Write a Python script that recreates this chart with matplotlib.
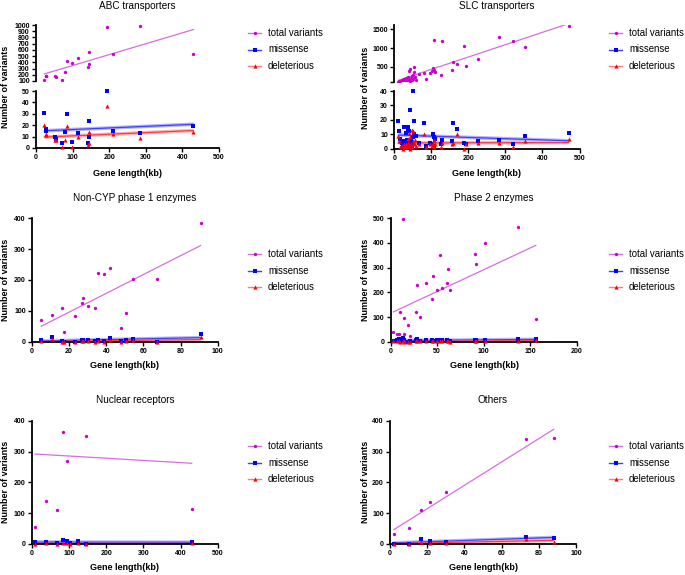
import numpy as np
import matplotlib
matplotlib.use('Agg')
import matplotlib.pyplot as plt
from matplotlib.lines import Line2D

plt.rcParams['font.family'] = ['Liberation Sans', 'DejaVu Sans']

# ---- data (gene length in kb, number of variants) ----
abc_len = [23, 26, 28, 51, 56, 70, 78, 84, 98, 116, 141, 144, 145, 194, 211, 283, 430]
abc_total = [116, 175, 180, 186, 170, 116, 245, 427, 384, 470, 325, 379, 572, 968, 534, 989, 534]
abc_missense = [31, 17, 15, 10, 8, 4, 14, 30, 5, 13, 4, 10, 24, 50, 15, 13, 19]
abc_deleterious = [20, 12, 11, 7, 7, 1, 7, 19, 1, 10, 3, 4, 14, 37, 12, 9, 14]

slc_len = [11, 13, 16, 20, 23, 25, 27, 29, 31, 33, 35, 37, 38, 40, 41, 42, 43, 45, 47, 48,
           50, 51, 52, 54, 56, 58, 66, 80, 85, 97, 102, 105, 107, 108, 109, 127, 130, 156,
           158, 168, 188, 194, 227, 284, 320, 352, 471]
slc_total = [110, 120, 130, 140, 150, 170, 180, 160, 200, 140, 170, 230, 190, 395, 160, 440,
             120, 210, 260, 150, 290, 180, 368, 500, 230, 160, 316, 351, 184, 333, 400, 465,
             1211, 420, 377, 289, 1175, 421, 640, 588, 1044, 535, 719, 1281, 1184, 1035, 1588]
slc_missense = [19, 12, 7, 4, 1, 5, 15, 4, 11, 6, 2, 15, 14, 12, 3, 27, 1, 5, 4, 2, 40, 8, 19,
                10, 9, 9, 4, 18, 2, 4, 3, 10, 8, 2, 7, 3, 6, 5, 18, 14, 4, 3, 5, 6, 3, 9, 11]
slc_deleterious = [9, 5, 1, 2, 0, 3, 2, 1, 3, 2, 1, 7, 4, 11, 2, 8, 0, 3, 13, 1, 12, 5, 4, 3,
                   6, 2, 3, 10, 1, 3, 2, 4, 6, 1, 3, 1, 4, 3, 4, 10, 0, 3, 4, 4, 1, 5, 7]

p1_len = [5, 10.6, 16, 17.5, 23, 27, 27.3, 30, 34, 35.4, 39, 42, 47.8, 50.5, 54.6, 67.5, 90.8]
p1_total = [70, 86, 108, 32, 82, 124, 143, 116, 108, 224, 218, 239, 46, 92, 202, 203, 384]
p1_missense = [5, 16, 2, 0, 0, 5, 6, 7, 2, 7, 2, 13, 2, 7, 10, 0, 24]
p1_deleterious = [2, 10, 0, 0, 0, 2, 3, 3, 0, 3, 0, 6, 0, 3, 5, 0, 14]

p2_len = [3, 7, 9, 10, 13, 14, 14.5, 18.6, 21, 27, 28.7, 32, 38, 44, 45.5, 50, 53, 55, 61,
          62, 64, 91, 92, 101, 137, 156]
p2_total = [40, 32, 31, 122, 496, 97, 32, 69, 22, 119, 230, 100, 236, 172, 265, 209, 350,
            216, 236, 295, 211, 355, 315, 399, 463, 91]
p2_missense = [4, 5, 9, 3, 13, 6, 2, 0, 1, 7, 9, 3, 6, 5, 3, 6, 6, 7, 8, 4, 2, 8, 7, 8, 9, 11]
p2_deleterious = [1, 1, 2, 0, 3, 1, 0, 0, 0, 2, 2, 1, 2, 1, 1, 2, 2, 2, 3, 1, 0, 3, 2, 3, 4, 5]

nr_len = [9, 38.5, 67, 85, 94, 102, 124, 147, 430]
nr_total = [54, 140, 111, 364, 269, 440, 716, 349, 112]
nr_missense = [5, 5, 4, 13, 9, 4, 9, 0, 6]
nr_deleterious = [1, 2, 1, 4, 3, 1, 3, 0, 2]

oth_len = [2, 10, 16.7, 21.7, 30.3, 73.3, 88]
oth_total = [34, 53, 111, 136, 169, 342, 343]
oth_missense = [1, 1, 16, 9, 5, 22, 18]
oth_deleterious = [0, 0, 8, 4, 3, 15, 8]

series_labels = ['total variants', 'missense', 'deleterious']

# ---- styling ----
W, H = 685, 575
TOT_C, TOT_L = '#cc00cc', '#d66ee0'
MIS_C, MIS_L, MIS_B = '#0000ff', '#4040ff', '#b4b4ff'
DEL_C, DEL_L, DEL_B = '#ff0000', '#ff3a3a', '#ffb4b4'

fig = plt.figure(figsize=(W / 100, H / 100), dpi=100)


def box(x0, x1, y0, y1):
    return [x0 / W, 1 - y1 / H, (x1 - x0) / W, (y1 - y0) / H]


def style(ax, xaxis=True):
    for s in ['top', 'right']:
        ax.spines[s].set_visible(False)
    ax.spines['left'].set_linewidth(1.3)
    ax.spines['bottom'].set_linewidth(1.3)
    if not xaxis:
        ax.spines['bottom'].set_visible(False)
        ax.tick_params(axis='x', bottom=False, labelbottom=False)
    ax.tick_params(direction='out', length=3, width=1, labelsize=5, pad=1.5)
    for lab in ax.get_xticklabels() + ax.get_yticklabels():
        lab.set_fontweight('bold')


def fit(ax, x, y, color, band=None):
    k, b = np.polyfit(x, y, 1)
    xs = np.array([min(x), max(x)])
    if band:
        ax.plot(xs, k * xs + b, color=band, lw=2.6, solid_capstyle='butt', zorder=1)
    ax.plot(xs, k * xs + b, color=color, lw=0.9, zorder=2)


def dots(ax, x, y, kind):
    if kind == 0:
        ax.plot(x, y, 'o', ms=2.4, color=TOT_C, mew=0, zorder=4)
    elif kind == 1:
        ax.plot(x, y, 's', ms=3.2, color=MIS_C, mew=0, zorder=4, clip_on=False)
    else:
        ax.plot(x, y, '^', ms=3.0, color=DEL_C, mew=0, zorder=5, clip_on=False)


def panel(rect, x, tot, mis, dele, xmax, xstep, ymax, ystep):
    ax = fig.add_axes(rect)
    fit(ax, x, tot, TOT_L)
    fit(ax, x, mis, MIS_L, MIS_B)
    fit(ax, x, dele, DEL_L, DEL_B)
    dots(ax, x, tot, 0)
    dots(ax, x, mis, 1)
    dots(ax, x, dele, 2)
    ax.set_xlim(0, xmax)
    ax.set_ylim(0, ymax)
    ax.set_xticks(np.arange(0, xmax + 1, xstep))
    ax.set_yticks(np.arange(0, ymax + 1, ystep))
    style(ax)
    return ax


def broken(x0, x1, up, low, x, tot, mis, dele, up_lim, up_ticks, up_labels, low_max, low_step):
    ax_u = fig.add_axes(box(x0, x1, up[0], up[1]))
    fit(ax_u, x, tot, TOT_L)
    dots(ax_u, x, tot, 0)
    ax_u.set_xlim(0, 500)
    ax_u.set_ylim(*up_lim)
    ax_u.set_yticks(up_ticks)
    ax_u.set_yticklabels(up_labels)
    style(ax_u, xaxis=False)

    ax_l = fig.add_axes(box(x0, x1, low[0], low[1]))
    fit(ax_l, x, mis, MIS_L, MIS_B)
    fit(ax_l, x, dele, DEL_L, DEL_B)
    dots(ax_l, x, mis, 1)
    dots(ax_l, x, dele, 2)
    ax_l.set_xlim(0, 500)
    ax_l.set_ylim(0, low_max)
    ax_l.set_xticks(np.arange(0, 501, 100))
    ax_l.set_yticks(np.arange(0, low_max + 1, low_step))
    style(ax_l)


def texts(title, cx, ty, ylab_x, ylab_y, xlab_y):
    fig.text((cx + 10) / W, 1 - ty / H, title, ha='center', va='center', fontsize=7.2)
    fig.text(ylab_x / W, 1 - ylab_y / H, 'Number of variants', rotation=90,
             ha='center', va='center', fontsize=6.5, fontweight='bold')
    fig.text(cx / W, 1 - xlab_y / H, 'Gene length(kb)', ha='center', va='center',
             fontsize=6.5, fontweight='bold')


def legend(x_line, y_top):
    handles = [('o', TOT_C, TOT_L, 2.4), ('s', MIS_C, MIS_L, 3.0), ('^', DEL_C, '#ff7a7a', 3.0)]
    for i, (m, mc, lc, ms) in enumerate(handles):
        y = 1 - (y_top + i * 16.5) / H
        fig.add_artist(Line2D([x_line / W, (x_line + 13) / W], [y, y], color=lc, lw=1.0))
        fig.add_artist(Line2D([(x_line + 6.5) / W], [y], marker=m, ms=ms, color=mc, mew=0))
        fig.text((x_line + 20) / W, y, series_labels[i], ha='left', va='center', fontsize=6.9)


# ABC transporters (broken axis)
broken(36, 219, (25, 81), (91, 148), abc_len, abc_total, abc_missense, abc_deleterious,
       (100, 1000), np.arange(100, 1001, 100), [str(v) for v in range(100, 1001, 100)], 50, 10)
texts('ABC transporters', 127.5, 6, 6, 87, 174)
legend(248, 33)

# SLC transporters (broken axis)
broken(394.3, 579.5, (25, 82), (91, 148.7), slc_len, slc_total, slc_missense, slc_deleterious,
       (100, 1610), [100, 500, 1000, 1500], ['', '500', '1000', '1500'], 40, 10)
texts('SLC transporters', 487, 6, 365, 88, 174)
legend(609, 33)

# Non-CYP phase 1 enzymes
panel(box(32, 217.7, 218.3, 341.7), p1_len, p1_total, p1_missense, p1_deleterious, 100, 20, 400, 100)
texts('Non-CYP phase 1 enzymes', 125, 198, 6, 280, 366)
legend(248, 254)

# Phase 2 enzymes
panel(box(390.7, 576.7, 218.3, 341.7), p2_len, p2_total, p2_missense, p2_deleterious, 200, 50, 500, 100)
texts('Phase 2 enzymes', 484, 198, 365, 280, 366)
legend(609, 254)

# Nuclear receptors
panel(box(31.7, 217.7, 420.7, 544), nr_len, nr_total, nr_missense, nr_deleterious, 500, 100, 400, 100)
texts('Nuclear receptors', 125, 400, 6, 482, 568)
legend(248, 446)

# Others
panel(box(390, 576, 420.7, 544), oth_len, oth_total, oth_missense, oth_deleterious, 100, 20, 400, 100)
texts('Others', 483, 400, 365, 482, 568)
legend(609, 446)

fig.savefig('out.png', dpi=100)
